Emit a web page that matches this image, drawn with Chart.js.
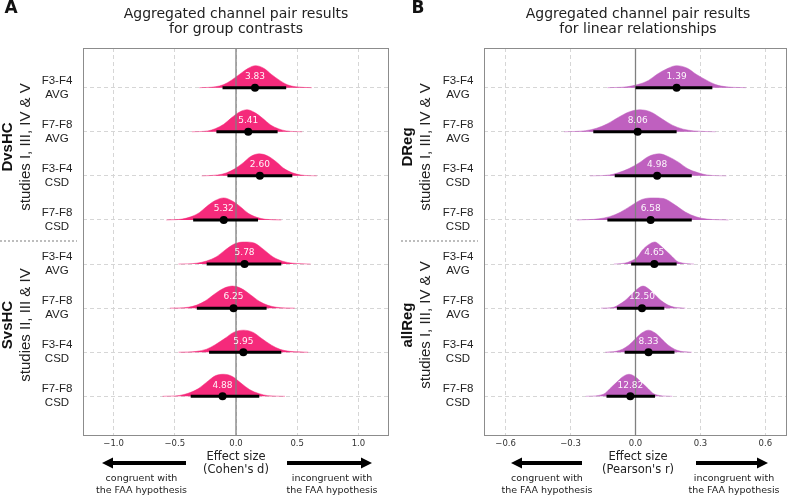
<!DOCTYPE html>
<html>
<head>
<meta charset="utf-8">
<script src="https://cdn.jsdelivr.net/npm/chart.js@4"></script>
<style>
  body { margin: 0; background: #fff; }
  #wrap { position: relative; width: 791px; height: 498px; }
  canvas { position: absolute; top: 0; }
</style>
</head>
<body>
<div id="wrap">
  <canvas id="panelA" width="395" height="498" style="left:0"></canvas>
  <canvas id="panelB" width="396" height="498" style="left:395px"></canvas>
</div>
<script>
// rows (top to bottom) and their labels
const rows = [1, 2, 3, 4, 5, 6, 7, 8];
const channelPairs = ['F3-F4', 'F7-F8', 'F3-F4', 'F7-F8', 'F3-F4', 'F7-F8', 'F3-F4', 'F7-F8'];
const methods = ['AVG', 'AVG', 'CSD', 'CSD', 'AVG', 'AVG', 'CSD', 'CSD'];

// Panel A: group contrasts (Cohen's d)
const ticksA = [-1, -0.5, 0, 0.5, 1];
const estA = [0.155, 0.10, 0.195, -0.10, 0.07, -0.02, 0.06, -0.11];
const lowA = [-0.11, -0.16, -0.07, -0.35, -0.24, -0.32, -0.22, -0.37];
const highA = [0.41, 0.34, 0.46, 0.18, 0.37, 0.25, 0.37, 0.19];
const bfA = ['3.83', '5.41', '2.60', '5.32', '5.78', '6.25', '5.95', '4.88'];
const densXA = [
  [-0.30, -0.17, -0.10, -0.04, 0.03, 0.10, 0.16, 0.23, 0.29, 0.36, 0.42, 0.49, 0.62],
  [-0.36, -0.23, -0.17, -0.10, -0.04, 0.03, 0.09, 0.15, 0.22, 0.28, 0.35, 0.41, 0.54],
  [-0.28, -0.15, -0.08, -0.01, 0.06, 0.12, 0.19, 0.26, 0.33, 0.39, 0.46, 0.53, 0.66],
  [-0.57, -0.44, -0.37, -0.30, -0.24, -0.17, -0.10, -0.03, 0.04, 0.10, 0.17, 0.24, 0.37],
  [-0.47, -0.32, -0.24, -0.16, -0.09, -0.01, 0.07, 0.15, 0.23, 0.30, 0.38, 0.46, 0.61],
  [-0.54, -0.39, -0.32, -0.25, -0.18, -0.10, -0.03, 0.04, 0.12, 0.19, 0.26, 0.33, 0.48],
  [-0.47, -0.32, -0.24, -0.17, -0.09, -0.02, 0.06, 0.14, 0.21, 0.29, 0.36, 0.44, 0.59],
  [-0.60, -0.46, -0.39, -0.31, -0.24, -0.17, -0.10, -0.03, 0.04, 0.11, 0.19, 0.26, 0.40]
];
const densHA = [
  [0, 0.04, 0.14, 0.33, 0.61, 0.88, 1, 0.87, 0.60, 0.32, 0.13, 0.04, 0],
  [0, 0.04, 0.14, 0.34, 0.62, 0.90, 1, 0.88, 0.60, 0.32, 0.13, 0.04, 0],
  [0, 0.04, 0.13, 0.32, 0.60, 0.88, 1, 0.90, 0.63, 0.34, 0.14, 0.04, 0],
  [0, 0.04, 0.14, 0.33, 0.61, 0.88, 1, 0.86, 0.58, 0.30, 0.12, 0.03, 0],
  [0, 0.04, 0.14, 0.33, 0.63, 0.92, 1, 0.95, 0.64, 0.33, 0.13, 0.04, 0],
  [0, 0.04, 0.14, 0.33, 0.62, 0.90, 1, 0.90, 0.60, 0.31, 0.13, 0.04, 0],
  [0, 0.04, 0.14, 0.34, 0.63, 0.90, 1, 0.90, 0.62, 0.32, 0.13, 0.04, 0],
  [0, 0.04, 0.14, 0.34, 0.64, 0.93, 1, 0.90, 0.60, 0.31, 0.12, 0.03, 0]
];

// Panel B: linear relationships (Pearson's r)
const ticksB = [-0.6, -0.3, 0, 0.3, 0.6];
const estB = [0.19, 0.01, 0.10, 0.07, 0.087, 0.03, 0.06, -0.024];
const lowB = [0.0, -0.195, -0.096, -0.13, -0.02, -0.086, -0.05, -0.134];
const highB = [0.355, 0.19, 0.26, 0.26, 0.19, 0.133, 0.18, 0.09];
const bfB = ['1.39', '8.06', '4.98', '6.58', '4.65', '12.50', '8.33', '12.82'];
const densXB = [
  [-0.13, -0.04, 0.01, 0.06, 0.10, 0.15, 0.19, 0.24, 0.28, 0.33, 0.37, 0.42, 0.51],
  [-0.33, -0.23, -0.18, -0.13, -0.08, -0.03, 0.02, 0.07, 0.12, 0.17, 0.22, 0.27, 0.37],
  [-0.21, -0.12, -0.08, -0.03, 0.02, 0.06, 0.11, 0.15, 0.20, 0.24, 0.29, 0.33, 0.42],
  [-0.27, -0.17, -0.12, -0.07, -0.02, 0.03, 0.08, 0.13, 0.18, 0.23, 0.28, 0.33, 0.43],
  [-0.10, -0.05, -0.02, 0.01, 0.03, 0.06, 0.09, 0.11, 0.14, 0.17, 0.19, 0.22, 0.27],
  [-0.16, -0.10, -0.08, -0.05, -0.02, 0.01, 0.035, 0.06, 0.09, 0.12, 0.15, 0.18, 0.23],
  [-0.14, -0.09, -0.06, -0.03, 0.0, 0.03, 0.06, 0.09, 0.12, 0.15, 0.18, 0.21, 0.26],
  [-0.23, -0.17, -0.14, -0.12, -0.09, -0.06, -0.03, 0.0, 0.03, 0.06, 0.08, 0.11, 0.17]
];
const densHB = [
  [0, 0.04, 0.14, 0.33, 0.61, 0.88, 1, 0.88, 0.61, 0.33, 0.14, 0.04, 0],
  [0, 0.05, 0.16, 0.36, 0.65, 0.90, 1, 0.90, 0.60, 0.30, 0.12, 0.04, 0],
  [0, 0.04, 0.14, 0.33, 0.61, 0.88, 1, 0.88, 0.61, 0.33, 0.14, 0.04, 0],
  [0, 0.05, 0.15, 0.35, 0.65, 0.93, 1, 0.97, 0.70, 0.36, 0.14, 0.04, 0],
  [0, 0.04, 0.14, 0.33, 0.61, 0.88, 1, 0.88, 0.61, 0.33, 0.14, 0.04, 0],
  [0, 0.04, 0.14, 0.33, 0.61, 0.88, 1, 0.88, 0.61, 0.33, 0.14, 0.04, 0],
  [0, 0.04, 0.14, 0.33, 0.61, 0.88, 1, 0.88, 0.61, 0.33, 0.14, 0.04, 0],
  [0, 0.04, 0.14, 0.33, 0.61, 0.88, 1, 0.88, 0.61, 0.33, 0.14, 0.04, 0]
];

const DEJAVU = '"DejaVu Sans", sans-serif';
const ARIAL = '"Liberation Sans", Arial, sans-serif';

const panels = [
  {
    id: 'panelA', offset: 0, letter: 'A', color: '#f52a7b',
    title: ['Aggregated channel pair results', 'for group contrasts'],
    xmin: -1.25, xmax: 1.25, ticks: ticksA, axisWidth: 83, padRight: 6,
    est: estA, low: lowA, high: highA, bf: bfA, densX: densXA, densH: densHA,
    groups: [['DvsHC', 'studies I, III, IV & V'], ['SvsHC', 'studies II, III & IV']],
    unit: "(Cohen's d)",
    letterX: 11, titleX: 236, rowLabelX: 57, groupX: 8, studyX: 26, sepFrom: 0, sepTo: 77,
    arrowL: [186, 102], arrowR: [287, 372], congX: 141.5, incongX: 332
  },
  {
    id: 'panelB', offset: 395, letter: 'B', color: '#bf60bf',
    title: ['Aggregated channel pair results', 'for linear relationships'],
    xmin: -0.7, xmax: 0.7, ticks: ticksB, axisWidth: 89, padRight: 1,
    est: estB, low: lowB, high: highB, bf: bfB, densX: densXB, densH: densHB,
    groups: [['DReg', 'studies I, III, IV & V'], ['allReg', 'studies I, III, IV & V']],
    unit: "(Pearson's r)",
    letterX: 418, titleX: 638, rowLabelX: 458, groupX: 408, studyX: 426, sepFrom: 401, sepTo: 478,
    arrowL: [582, 511], arrowR: [696, 768], congX: 547, incongX: 734
  }
];

function buildDatasets(p) {
  const ds = [];
  rows.forEach((r, i) => {
    ds.push({
      data: p.densX[i].map((x, j) => ({ x, y: r - p.densH[i][j] * 0.5 })),
      borderColor: p.color, borderWidth: 0.5, backgroundColor: p.color,
      fill: { value: r }, pointRadius: 0, cubicInterpolationMode: 'monotone', order: 4
    });
  });
  // zero reference line
  ds.push({
    data: [{ x: 0, y: 0.1 }, { x: 0, y: 8.9 }],
    borderColor: '#808080', borderWidth: 1.3, pointRadius: 0, fill: false, order: 3
  });
  rows.forEach((r, i) => {
    ds.push({
      data: [{ x: p.low[i], y: r }, { x: p.high[i], y: r }],
      borderColor: '#000', borderWidth: 3, pointRadius: 0, fill: false, order: 2
    });
  });
  ds.push({
    data: rows.map((r, i) => ({ x: p.est[i], y: r })),
    showLine: false, pointRadius: 4, pointBackgroundColor: '#000', pointBorderWidth: 0, order: 1
  });
  return ds;
}

function drawArrow(ctx, x0, x1, y) {
  const dir = Math.sign(x1 - x0);
  ctx.save();
  ctx.strokeStyle = '#000';
  ctx.fillStyle = '#000';
  ctx.lineWidth = 4;
  ctx.beginPath();
  ctx.moveTo(x0, y);
  ctx.lineTo(x1 - dir * 9, y);
  ctx.stroke();
  ctx.beginPath();
  ctx.moveTo(x1, y);
  ctx.lineTo(x1 - dir * 11, y - 5.5);
  ctx.lineTo(x1 - dir * 11, y + 5.5);
  ctx.closePath();
  ctx.fill();
  ctx.restore();
}

function textPlugin(p) {
  return {
    id: 'panelText',
    afterDraw(chart) {
      const ctx = chart.ctx;
      const o = p.offset;
      const xs = chart.scales.x, ys = chart.scales.y;
      const area = chart.chartArea;
      ctx.save();
      // plot frame
      ctx.strokeStyle = '#8c8c8c';
      ctx.lineWidth = 1;
      ctx.strokeRect(area.left + 0.5, area.top + 0.5, area.width - 1, area.height - 1);

      ctx.textAlign = 'center';
      ctx.textBaseline = 'middle';
      ctx.fillStyle = '#111';
      ctx.font = 'bold 17px ' + DEJAVU;
      ctx.fillText(p.letter, p.letterX - o, 9);
      ctx.font = '14px ' + DEJAVU;
      ctx.fillStyle = '#222';
      ctx.fillText(p.title[0], p.titleX - o, 14);
      ctx.fillText(p.title[1], p.titleX - o, 29);

      // row labels and Bayes factor labels
      rows.forEach((r, i) => {
        const y = ys.getPixelForValue(r);
        ctx.fillStyle = '#222';
        ctx.font = '11.5px ' + ARIAL;
        ctx.fillText(channelPairs[i], p.rowLabelX - o, y - 7);
        ctx.fillText(methods[i], p.rowLabelX - o, y + 7);
        ctx.fillStyle = 'rgba(255,255,255,0.95)';
        ctx.font = '9px ' + DEJAVU;
        ctx.fillText(p.bf[i], xs.getPixelForValue(p.est[i]), y - 11);
      });

      // group labels (rotated)
      const centers = [147, 325];
      p.groups.forEach((g, k) => {
        ctx.save();
        ctx.translate(p.groupX - o, centers[k]);
        ctx.rotate(-Math.PI / 2);
        ctx.fillStyle = '#111';
        ctx.font = 'bold 15px ' + ARIAL;
        ctx.fillText(g[0], 0, 0);
        ctx.restore();
        ctx.save();
        ctx.translate(p.studyX - o, centers[k]);
        ctx.rotate(-Math.PI / 2);
        ctx.fillStyle = '#222';
        ctx.font = '15px ' + ARIAL;
        ctx.fillText(g[1], 0, 0);
        ctx.restore();
      });

      // dotted separator between groups
      ctx.strokeStyle = '#a8a8a8';
      ctx.lineWidth = 1.5;
      ctx.setLineDash([2, 2]);
      ctx.beginPath();
      ctx.moveTo(p.sepFrom - o, 241);
      ctx.lineTo(p.sepTo - o, 241);
      ctx.stroke();
      ctx.setLineDash([]);

      // axis caption and direction arrows
      ctx.fillStyle = '#222';
      ctx.font = '11.5px ' + DEJAVU;
      ctx.fillText('Effect size', p.titleX - o, 457);
      ctx.fillText(p.unit, p.titleX - o, 470);
      drawArrow(ctx, p.arrowL[0] - o, p.arrowL[1] - o, 463);
      drawArrow(ctx, p.arrowR[0] - o, p.arrowR[1] - o, 463);
      ctx.font = '9.5px ' + DEJAVU;
      ctx.fillText('congruent with', p.congX - o, 479);
      ctx.fillText('the FAA hypothesis', p.congX - o, 491);
      ctx.fillText('incongruent with', p.incongX - o, 479);
      ctx.fillText('the FAA hypothesis', p.incongX - o, 491);
      ctx.restore();
    }
  };
}

panels.forEach(p => {
  new Chart(document.getElementById(p.id).getContext('2d'), {
    type: 'line',
    data: { datasets: buildDatasets(p) },
    options: {
      responsive: false,
      animation: false,
      devicePixelRatio: 1,
      layout: { padding: { left: 0, right: p.padRight, top: 48, bottom: 0 } },
      plugins: { legend: { display: false }, tooltip: { enabled: false } },
      scales: {
        x: {
          type: 'linear', min: p.xmin, max: p.xmax,
          afterBuildTicks: axis => { axis.ticks = p.ticks.map(v => ({ value: v })); },
          afterFit: axis => { axis.height = 62; },
          ticks: {
            font: { family: DEJAVU, size: 8.5 }, color: '#333', padding: 3, maxRotation: 0,
            callback: v => v.toFixed(1).replace('-', '\u2212')
          },
          grid: { color: '#d6d6d6', lineWidth: 1, drawTicks: false },
          border: { display: false, dash: [4, 3] }
        },
        y: {
          type: 'linear', min: 0.1, max: 8.9, reverse: true,
          afterBuildTicks: axis => { axis.ticks = rows.map(v => ({ value: v })); },
          afterFit: axis => { axis.width = p.axisWidth; },
          ticks: { display: false },
          grid: { color: '#d6d6d6', lineWidth: 1, drawTicks: false },
          border: { display: false, dash: [4, 3] }
        }
      }
    },
    plugins: [textPlugin(p)]
  });
});
</script>
</body>
</html>
